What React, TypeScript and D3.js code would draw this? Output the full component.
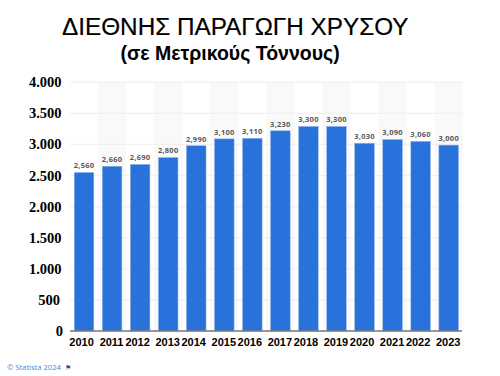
import React, { useEffect, useRef } from "react";
import * as d3 from "d3";

const years = ["2010","2011","2012","2013","2014","2015","2016","2017","2018","2019","2020","2021","2022","2023"];
const production = [2560,2660,2690,2800,2990,3100,3110,3230,3300,3300,3030,3090,3060,3000];
const barLabels = ["2,560","2,660","2,690","2,800","2,990","3,100","3,110","3,230","3,300","3,300","3,030","3,090","3,060","3,000"];
const yTicks = [0,500,1000,1500,2000,2500,3000,3500,4000];
const yTickLabels = ["0","500","1.000","1.500","2.000","2.500","3.000","3.500","4.000"];
const title = "ΔΙΕΘΝΗΣ ΠΑΡΑΓΩΓΗ ΧΡΥΣΟΥ";
const subtitle = "(σε Μετρικούς Τόννους)";

export default function App() {
  const ref = useRef<SVGSVGElement | null>(null);
  useEffect(() => {
    const svg = d3.select(ref.current!);
    svg.selectAll("*").remove();
    const x = d3.scaleBand().domain(years).range([70, 462.7]).paddingInner(0).paddingOuter(0);
    const y = d3.scaleLinear().domain([0, 4000]).range([331, 82.2]);

    svg.append("g").selectAll("rect").data(years.filter((_, i) => i % 2 === 1)).join("rect")
      .attr("x", d => x(d)!).attr("y", 82).attr("width", x.bandwidth()).attr("height", 249)
      .attr("fill", "#f9f9f9");

    svg.append("g").selectAll("line").data(yTicks.slice(1)).join("line")
      .attr("x1", 70).attr("x2", 462).attr("y1", d => y(d)).attr("y2", d => y(d))
      .attr("stroke", "#f0f0f0").attr("stroke-width", 1.2);

    const barW = 19.6;
    svg.append("g").selectAll("rect").data(years).join("rect")
      .attr("x", d => x(d)! + (x.bandwidth() - barW) / 2)
      .attr("y", (_, i) => y(production[i]) + 0.7)
      .attr("width", barW)
      .attr("height", (_, i) => 331 - y(production[i]) - 0.7)
      .attr("fill", "#2a72db")
      .attr("stroke", "#8fb6ee").attr("stroke-width", 0.5);

    svg.append("g").selectAll("text").data(years).join("text")
      .attr("x", d => x(d)! + x.bandwidth() / 2)
      .attr("y", (_, i) => y(production[i]) - 3.5)
      .attr("text-anchor", "middle")
      .attr("font-family", "'Open Sans', sans-serif")
      .attr("font-size", 7.5).attr("font-weight", 700).attr("letter-spacing", 0.25).attr("fill", "#5a5a5a")
      .text((_, i) => barLabels[i]);

    svg.append("line").attr("x1", 70).attr("x2", 462).attr("y1", 331).attr("y2", 331)
      .attr("stroke", "#777").attr("stroke-width", 1.3);

    svg.append("g").selectAll("text").data(yTicks).join("text")
      .attr("x", d => (d === 0 ? 63 : d === 500 ? 60 : 61.5))
      .attr("y", d => y(d) + 5)
      .attr("text-anchor", "end")
      .attr("font-family", "'Liberation Serif', serif")
      .attr("font-size", 14.5).attr("font-weight", 700).attr("fill", "#000")
      .text((_, i) => yTickLabels[i]);

    svg.append("g").selectAll("text").data(years).join("text")
      .attr("x", (d, i) => x(d)! + x.bandwidth() / 2 + (i % 2 === 0 ? -2.5 : -0.5))
      .attr("y", 346)
      .attr("text-anchor", "middle")
      .attr("font-family", "'Liberation Sans', Arial, sans-serif")
      .attr("font-size", 11).attr("font-weight", 700).attr("fill", "#000")
      .text(d => d);

    svg.append("text").attr("x", 62).attr("y", 35)
      .attr("font-family", "'Liberation Sans', Arial, sans-serif")
      .attr("font-size", 24.3).attr("fill", "#000").attr("stroke", "#000").attr("stroke-width", 0.2).text(title);
    svg.append("text").attr("x", 120.5).attr("y", 59.5)
      .attr("font-family", "'Liberation Sans', Arial, sans-serif")
      .attr("font-size", 19.5).attr("font-weight", 700).attr("fill", "#000").text(subtitle);

    svg.append("text").attr("x", 7).attr("y", 370)
      .attr("font-family", "'Open Sans', sans-serif")
      .attr("font-size", 7.6).attr("fill", "#3f86e4").text("© Statista 2024");
    svg.append("text").attr("x", 65).attr("y", 370)
      .attr("font-family", "'DejaVu Sans', sans-serif")
      .attr("font-size", 7).attr("fill", "#1a4fa8").text("⚑");
  }, []);
  return (
    <svg ref={ref} width={500} height={376}
      style={{ position: "fixed", left: 0, top: 0, background: "#fff", display: "block" }} />
  );
}
